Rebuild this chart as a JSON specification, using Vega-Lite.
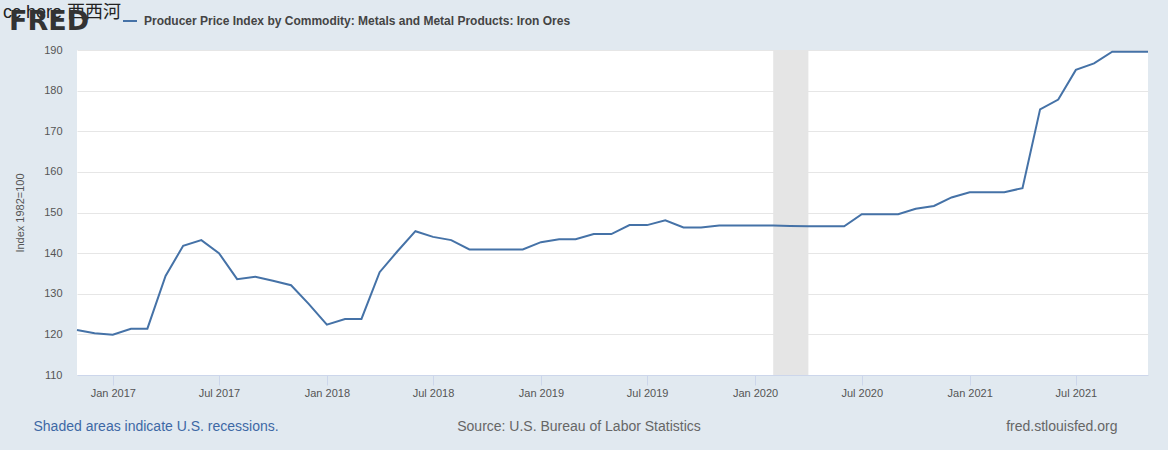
{
  "$schema": "https://vega.github.io/schema/vega-lite/v6.json",
  "width": 1071,
  "height": 325,
  "autosize": "none",
  "padding": {"left": 77, "top": 50, "right": 20, "bottom": 75},
  "background": "#e1e9f0",
  "title": {
    "text": "FRED",
    "anchor": "start",
    "frame": "group",
    "dx": -68,
    "offset": 0,
    "dy": 44,
    "baseline": "alphabetic",
    "font": "DejaVu Sans",
    "fontSize": 27,
    "fontWeight": "bold",
    "color": "#333"
  },
  "config": {
    "view": {"fill": "white", "stroke": null},
    "font": "Liberation Sans"
  },
  "datasets": {
    "ppi": [
      {"date": "2016-11-01T00:00:00", "value": 121.1},
      {"date": "2016-12-01T00:00:00", "value": 120.3},
      {"date": "2017-01-01T00:00:00", "value": 119.9},
      {"date": "2017-02-01T00:00:00", "value": 121.4},
      {"date": "2017-03-01T00:00:00", "value": 121.4},
      {"date": "2017-04-01T00:00:00", "value": 134.4},
      {"date": "2017-05-01T00:00:00", "value": 141.8},
      {"date": "2017-06-01T00:00:00", "value": 143.2},
      {"date": "2017-07-01T00:00:00", "value": 140.0},
      {"date": "2017-08-01T00:00:00", "value": 133.6},
      {"date": "2017-09-01T00:00:00", "value": 134.2},
      {"date": "2017-10-01T00:00:00", "value": 133.2},
      {"date": "2017-11-01T00:00:00", "value": 132.1},
      {"date": "2017-12-01T00:00:00", "value": 127.5},
      {"date": "2018-01-01T00:00:00", "value": 122.4},
      {"date": "2018-02-01T00:00:00", "value": 123.8},
      {"date": "2018-03-01T00:00:00", "value": 123.8},
      {"date": "2018-04-01T00:00:00", "value": 135.3},
      {"date": "2018-05-01T00:00:00", "value": 140.4},
      {"date": "2018-06-01T00:00:00", "value": 145.4},
      {"date": "2018-07-01T00:00:00", "value": 144.0},
      {"date": "2018-08-01T00:00:00", "value": 143.2},
      {"date": "2018-09-01T00:00:00", "value": 140.9},
      {"date": "2018-10-01T00:00:00", "value": 140.9},
      {"date": "2018-11-01T00:00:00", "value": 140.9},
      {"date": "2018-12-01T00:00:00", "value": 140.9},
      {"date": "2019-01-01T00:00:00", "value": 142.7},
      {"date": "2019-02-01T00:00:00", "value": 143.4},
      {"date": "2019-03-01T00:00:00", "value": 143.4},
      {"date": "2019-04-01T00:00:00", "value": 144.7},
      {"date": "2019-05-01T00:00:00", "value": 144.7},
      {"date": "2019-06-01T00:00:00", "value": 146.9},
      {"date": "2019-07-01T00:00:00", "value": 146.9},
      {"date": "2019-08-01T00:00:00", "value": 148.1},
      {"date": "2019-09-01T00:00:00", "value": 146.3},
      {"date": "2019-10-01T00:00:00", "value": 146.3},
      {"date": "2019-11-01T00:00:00", "value": 146.8},
      {"date": "2019-12-01T00:00:00", "value": 146.8},
      {"date": "2020-01-01T00:00:00", "value": 146.8},
      {"date": "2020-02-01T00:00:00", "value": 146.8},
      {"date": "2020-03-01T00:00:00", "value": 146.7},
      {"date": "2020-04-01T00:00:00", "value": 146.6},
      {"date": "2020-05-01T00:00:00", "value": 146.6},
      {"date": "2020-06-01T00:00:00", "value": 146.6},
      {"date": "2020-07-01T00:00:00", "value": 149.6},
      {"date": "2020-08-01T00:00:00", "value": 149.6},
      {"date": "2020-09-01T00:00:00", "value": 149.6},
      {"date": "2020-10-01T00:00:00", "value": 150.9},
      {"date": "2020-11-01T00:00:00", "value": 151.6},
      {"date": "2020-12-01T00:00:00", "value": 153.7},
      {"date": "2021-01-01T00:00:00", "value": 155.0},
      {"date": "2021-02-01T00:00:00", "value": 155.0},
      {"date": "2021-03-01T00:00:00", "value": 155.0},
      {"date": "2021-04-01T00:00:00", "value": 156.0},
      {"date": "2021-05-01T00:00:00", "value": 175.4},
      {"date": "2021-06-01T00:00:00", "value": 177.8},
      {"date": "2021-07-01T00:00:00", "value": 185.1},
      {"date": "2021-08-01T00:00:00", "value": 186.7},
      {"date": "2021-09-01T00:00:00", "value": 189.6},
      {"date": "2021-10-01T00:00:00", "value": 189.6},
      {"date": "2021-11-01T00:00:00", "value": 189.6}
    ],
    "recessions": [
      {"start": "2020-02-01T00:00:00", "end": "2020-04-01T00:00:00"}
    ]
  },
  "layer": [
    {
      "data": {"name": "recessions"},
      "mark": {"type": "rect", "color": "#e5e5e5"},
      "encoding": {
        "x": {
          "field": "start",
          "type": "temporal",
          "axis": null,
          "scale": {"domain": [{"year": 2016, "month": 11, "date": 1}, {"year": 2021, "month": 11, "date": 1}]}
        },
        "x2": {"field": "end"}
      }
    },
    {
      "data": {"name": "ppi"},
      "mark": {"type": "line", "strokeWidth": 2},
      "encoding": {
        "x": {
          "field": "date",
          "type": "temporal",
          "scale": {"domain": [{"year": 2016, "month": 11, "date": 1}, {"year": 2021, "month": 11, "date": 1}]},
          "axis": {
            "orient": "bottom",
            "values": [
              {"year": 2017, "month": 1, "date": 1}, {"year": 2017, "month": 7, "date": 1},
              {"year": 2018, "month": 1, "date": 1}, {"year": 2018, "month": 7, "date": 1},
              {"year": 2019, "month": 1, "date": 1}, {"year": 2019, "month": 7, "date": 1},
              {"year": 2020, "month": 1, "date": 1}, {"year": 2020, "month": 7, "date": 1},
              {"year": 2021, "month": 1, "date": 1}, {"year": 2021, "month": 7, "date": 1}
            ],
            "format": "%b %Y",
            "grid": false,
            "domainColor": "#ccd6eb",
            "tickColor": "#ccd6eb",
            "tickSize": 10,
            "labelFont": "Liberation Sans",
            "labelFontSize": 11,
            "labelColor": "#555",
            "labelPadding": 2,
            "labelFlush": false,
            "labelOverlap": false,
            "title": "Source: U.S. Bureau of Labor Statistics",
            "titleX": 501.5,
            "titleY": 55,
            "titleAlign": "center",
            "titleBaseline": "alphabetic",
            "titleFont": "Liberation Sans",
            "titleFontSize": 14,
            "titleFontWeight": "normal",
            "titleColor": "#666"
          }
        },
        "y": {
          "field": "value",
          "type": "quantitative",
          "scale": {"domain": [110, 190], "nice": false, "zero": false},
          "axis": {
            "orient": "left",
            "values": [110, 120, 130, 140, 150, 160, 170, 180, 190],
            "domain": false,
            "ticks": false,
            "gridColor": "#e6e6e6",
            "labelFont": "Liberation Sans",
            "labelFontSize": 11,
            "labelColor": "#555",
            "labelPadding": 15,
            "title": "Index 1982=100",
            "titleX": -57,
            "titleY": 162.5,
            "titleAngle": 270,
            "titleAlign": "center",
            "titleBaseline": "middle",
            "titleFont": "Liberation Sans",
            "titleFontSize": 11,
            "titleFontWeight": "normal",
            "titleColor": "#555"
          }
        },
        "color": {
          "datum": "Producer Price Index by Commodity: Metals and Metal Products: Iron Ores",
          "scale": {"range": ["#4572a7"]},
          "legend": {
            "orient": "none",
            "legendX": -74,
            "legendY": -37,
            "padding": 0,
            "title": "cc here 西西河",
            "titleOrient": "left",
            "titleFont": "Liberation Sans, Noto Sans CJK SC",
            "titleFontSize": 18,
            "titleFontWeight": "normal",
            "titleColor": "#222",
            "titlePadding": 0,
            "titleBaseline": "line-bottom",
            "titleLineHeight": 14.4,
            "symbolType": "stroke",
            "symbolSize": 196,
            "symbolStrokeWidth": 2,
            "labelFont": "Liberation Sans",
            "labelFontSize": 12,
            "labelFontWeight": "bold",
            "labelColor": "#444",
            "labelLimit": 1000,
            "labelOffset": 6
          }
        }
      }
    },
    {
      "data": {"name": "ppi"},
      "mark": {"type": "point", "opacity": 0},
      "encoding": {
        "x": {
          "field": "date",
          "type": "temporal",
          "scale": {"domain": [{"year": 2016, "month": 11, "date": 1}, {"year": 2021, "month": 11, "date": 1}]},
          "axis": {
            "orient": "bottom",
            "labels": false,
            "ticks": false,
            "domain": false,
            "grid": false,
            "title": "Shaded areas indicate U.S. recessions.",
            "titleX": -44,
            "titleY": 55,
            "titleAlign": "left",
            "titleBaseline": "alphabetic",
            "titleFont": "Liberation Sans",
            "titleFontSize": 14,
            "titleFontWeight": "normal",
            "titleColor": "#3d68a5"
          }
        },
        "y": {
          "field": "value",
          "type": "quantitative",
          "scale": {"domain": [110, 190], "nice": false, "zero": false},
          "axis": {
            "orient": "right",
            "labels": false,
            "ticks": false,
            "domain": false,
            "grid": false,
            "title": "fred.stlouisfed.org",
            "titleX": -31,
            "titleY": 380,
            "titleAngle": 0,
            "titleAlign": "right",
            "titleBaseline": "alphabetic",
            "titleFont": "Liberation Sans",
            "titleFontSize": 14,
            "titleFontWeight": "normal",
            "titleColor": "#666"
          }
        }
      }
    }
  ],
  "resolve": {"axis": {"x": "independent", "y": "independent"}}
}
